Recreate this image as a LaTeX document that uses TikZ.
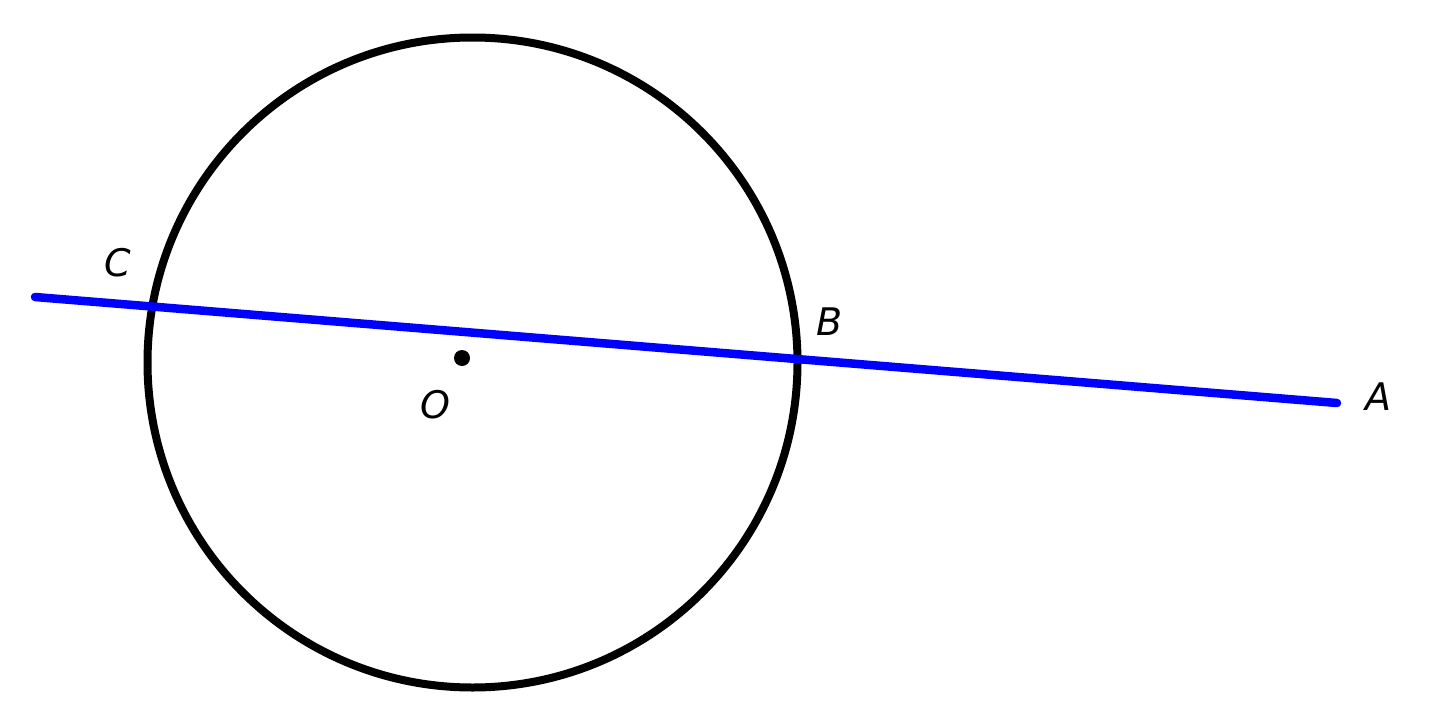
\documentclass[tikz,border=0pt]{standalone}
\usepackage{fontspec}
\setmainfont{DejaVu Sans}
\begin{document}
\begin{tikzpicture}[x=1pt,y=-1pt,lab/.style={font=\fontsize{38}{42}\selectfont\itshape}]
\useasboundingbox (0,0) rectangle (1440,720);
\fill[white] (0,0) rectangle (1440,720);
\coordinate (Oc) at (472.5,362.5);
\draw[line width=8pt] (Oc) circle (325);
\coordinate (L) at (35,297);
\coordinate (Ae) at (1337,403);
\draw[blue,line width=8.5pt,line cap=round] (L) -- (Ae);
\fill (462,358) circle (8);
\node[lab] (C) at (118,263) {C};
\node[lab] (B) at (830,322) {B};
\node[lab] (O) at (435,405) {O};
\node[lab] (A) at (1378,397) {A};
\end{tikzpicture}
\end{document}
